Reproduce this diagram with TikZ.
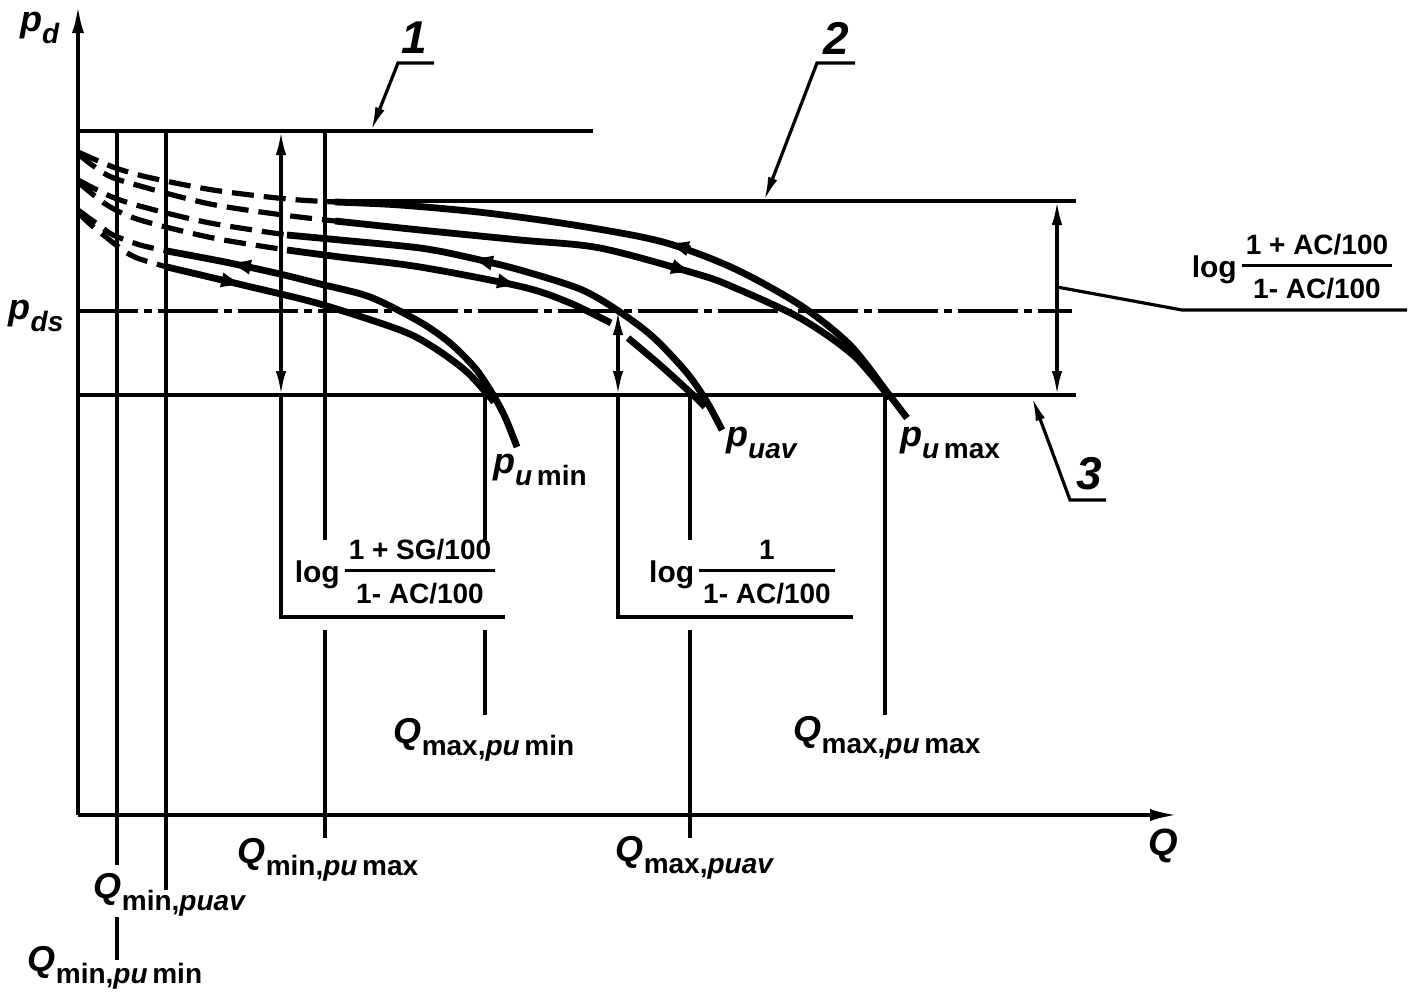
\documentclass[tikz,border=0pt]{standalone}
\usepackage{fontspec}
\setmainfont{Liberation Sans}
\usetikzlibrary{arrows.meta}

\newcommand{\sbs}[1]{\raisebox{-3pt}{\fontsize{7}{8}\selectfont #1}}
\newcommand{\logfr}[2]{{\fontsize{7.5}{9}\selectfont log\,\setlength{\arrayrulewidth}{0.8pt}\fontsize{7}{8}\selectfont
  \begin{tabular}{@{\hspace{1pt}}c@{\hspace{1pt}}}#1\\\hline\rule{0pt}{7.8pt}#2\end{tabular}}}

\begin{document}
\begin{tikzpicture}[x=0.25pt,y=-0.25pt,
  thinln/.style={line width=1pt},
  crv/.style={line width=1.7pt},
  dcrv/.style={line width=1.3pt,dash pattern=on 5.5pt off 2.5pt},
  dashdot/.style={line width=1pt,dash pattern=on 15pt off 1.5pt on 2pt off 1.5pt},
  ldr/.style={line width=0.8pt},
  dimarr/.style={line width=0.8pt,{Latex[length=6pt,width=2.6pt]}-{Latex[length=6pt,width=2.6pt]}},
  qlabel/.style={font=\fontsize{9}{10}\selectfont\bfseries,inner sep=0pt},
  numlbl/.style={font=\fontsize{11.5}{12}\selectfont\bfseries\itshape,inner sep=0pt},
  flow/.style={line width=1.7pt,-{Latex[length=6.5pt,width=3.8pt]}}]
\useasboundingbox (0,0) rectangle (1425,1006);

\coordinate (o) at (78,815);
\draw[thinln,-{Latex[length=7pt,width=3pt]}] (o) to (78,5);
\draw[thinln,-{Latex[length=7pt,width=3pt]}] (o) to (1178,815);

\node (pd) at (40,28) [qlabel] {\textit{p}\sbs{\textit{d}}};
\node (pds) at (36,316) [qlabel] {\textit{p}\sbs{\textit{ds}}};
\node (qax) at (1163,846) [qlabel,font=\fontsize{9.5}{10}\selectfont\bfseries] {\textit{Q}};

\draw[thinln] (78,131) to (593,131);
\draw[thinln] (325,201) to (1076,201);
\draw[dashdot] (78,311) to (1072,311);
\draw[thinln] (78,395) to (1076,395);

\draw[thinln]
(117,131) to (117,865)
(117,917) to (117,960)
(166,131) to (166,890)
(325,131) to (325,540)
(325,630) to (325,838)
(485,395) to (485,540)
(485,630) to (485,715)
(690,395) to (690,540)
(690,630) to (690,838)
(885,395) to (885,715);

\draw[dimarr] (281,131) to (281,395);
\draw[thinln] (281,395) to (281,617) to (505,617);
\draw[dimarr] (618,311) to (618,395);
\draw[thinln] (618,395) to (618,617) to (853,617);
\draw[dimarr] (1057,201) to (1057,395);
\draw[ldr] (1057,287) to (1182,310) to (1407,310);

\node (lg1) at (395,575) [qlabel] {\logfr{1 + SG/100}{1- AC/100}};
\node (lg2) at (742,575) [qlabel] {\logfr{1}{1- AC/100}};
\node (lg3) at (1292,270) [qlabel] {\logfr{1 + AC/100}{1- AC/100}};

\node (n1) at (414,38) [numlbl] {1};
\node (n2) at (836,38) [numlbl] {2};
\node (n3) at (1089,474) [numlbl] {3};
\draw[ldr,-{Latex[length=6pt,width=2.4pt]}] (434,63) to (398,63) to (371,131);
\draw[ldr,-{Latex[length=6pt,width=2.4pt]}] (855,63) to (817,63) to (764,201);
\draw[ldr,-{Latex[length=6pt,width=2.4pt]}] (1106,500) to (1070,500) to (1032,397);

\draw[dcrv] plot[smooth] coordinates {(78,152) (113,167) (147,177) (213,190) (287,199) (335,202)};
\draw[crv] plot[smooth] coordinates {(335,202) (400,205) (487,213) (580,226) (663,242) (733,268) (800,305) (850,345) (887,392) (907,418)};
\draw[dcrv] plot[smooth] coordinates {(78,154) (107,175) (140,186) (210,204) (283,215) (335,221)};
\draw[crv] plot[smooth] coordinates {(335,221) (420,230) (520,240) (600,248) (697,274) (733,287) (800,318) (853,355) (890,398)};
\draw[flow] (690,249) to (663,242);
\draw[flow] (670,266) to (697,274);

\draw[dcrv] plot[smooth] coordinates {(78,180) (112,197) (147,208) (210,223) (287,235)};
\draw[crv] plot[smooth] coordinates {(287,235) (340,240) (420,248) (467,257) (520,270) (580,289) (617,310) (653,337) (687,373) (707,402) (722,430)};
\draw[dcrv] plot[smooth] coordinates {(78,182) (107,205) (140,220) (213,238) (287,250)};
\draw[crv] plot[smooth] coordinates {(287,250) (340,257) (420,267) (523,287) (570,303) (611,323)};
\draw[crv] plot[smooth] coordinates {(628,338) (660,365) (693,395) (705,407)};
\draw[flow] (492,263) to (467,257);
\draw[flow] (498,281) to (523,287);

\draw[dcrv] plot[smooth] coordinates {(78,210) (100,226) (113,235) (140,245) (167,251)};
\draw[crv] plot[smooth] coordinates {(167,251) (225,262) (280,274) (320,284) (370,297) (420,322) (450,343) (475,368) (492,393) (505,417) (517,447)};
\draw[dcrv] plot[smooth] coordinates {(78,212) (90,224) (120,248) (137,258) (167,267)};
\draw[crv] plot[smooth] coordinates {(167,267) (247,286) (320,304) (400,330) (433,347) (467,372) (494,402)};
\draw[flow] (250,267) to (225,262);
\draw[flow] (222,280) to (247,286);

\node (pumin) at (540,470) [qlabel] {\textit{p}\sbs{\textit{u}\,min}};
\node (puav) at (762,443) [qlabel] {\textit{p}\sbs{\textit{uav}}};
\node (pumax) at (950,443) [qlabel] {\textit{p}\sbs{\textit{u}\,max}};

\node (qminmin) at (115,968) [qlabel] {\textit{Q}\sbs{min,\textit{pu}\,min}};
\node (qminav) at (170,895) [qlabel] {\textit{Q}\sbs{min,\textit{puav}}};
\node (qminmax) at (328,860) [qlabel] {\textit{Q}\sbs{min,\textit{pu}\,max}};
\node (qmaxmin) at (484,740) [qlabel] {\textit{Q}\sbs{max,\textit{pu}\,min}};
\node (qmaxav) at (695,858) [qlabel] {\textit{Q}\sbs{max,\textit{puav}}};
\node (qmaxmax) at (887,738) [qlabel] {\textit{Q}\sbs{max,\textit{pu}\,max}};
\end{tikzpicture}
\end{document}
